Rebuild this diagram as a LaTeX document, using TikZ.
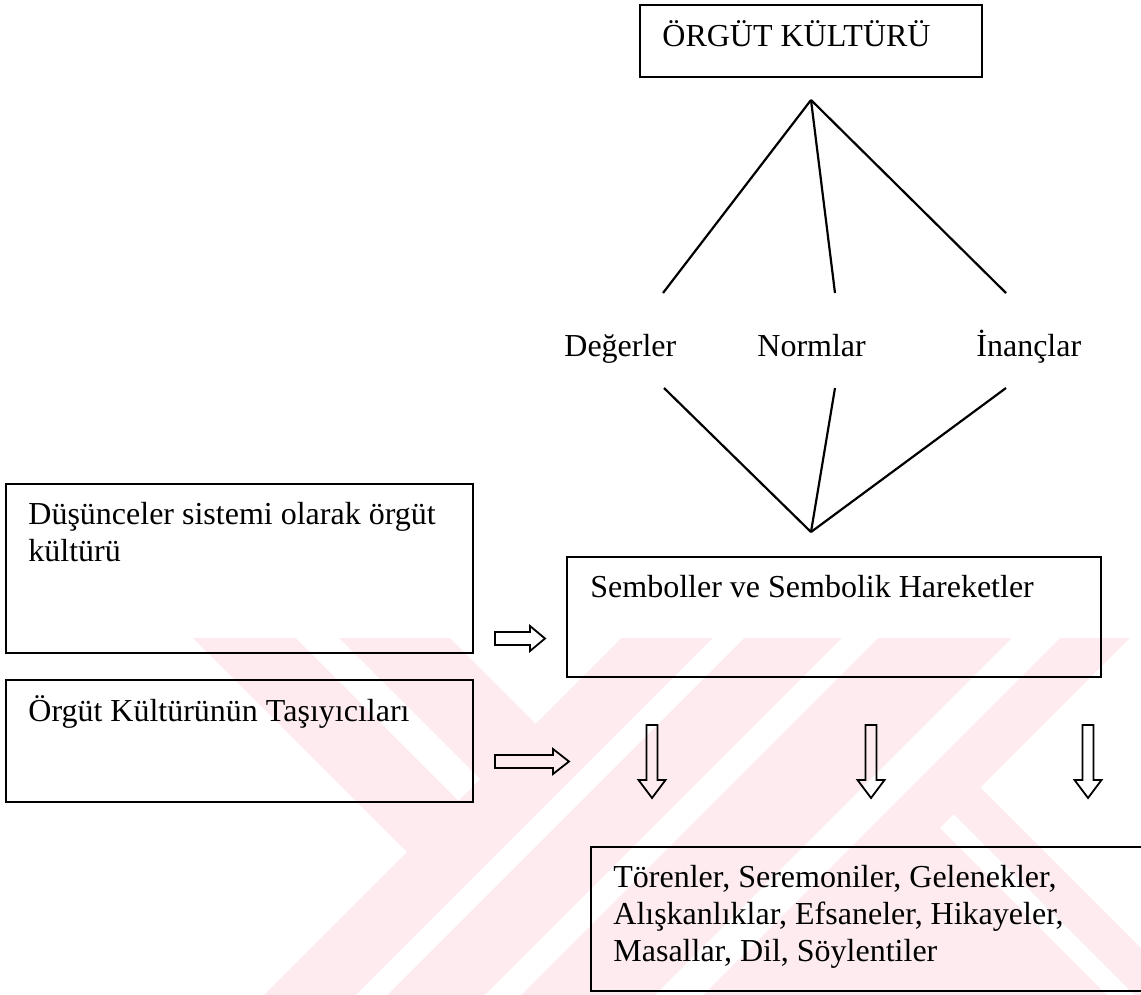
\documentclass[tikz,border=0pt]{standalone}
\usepackage{fontspec}
\setmainfont{Liberation Serif}
\definecolor{wm}{RGB}{253,235,239}
\tikzset{
  box/.style={draw, line width=1pt, inner sep=0pt},
  txt/.style={anchor=base west, inner sep=0pt, font=\fontsize{16pt}{18.5pt}\selectfont},
  conn/.style={line width=1.1pt},
  barrow/.style={draw, line width=0.9pt, line join=miter},
}
\begin{document}
\begin{tikzpicture}[x=0.5pt,y=-0.5pt]
\useasboundingbox (0,0) rectangle (1141,995);
\clip (0,0) rectangle (1141,995);

% faint watermark
\fill[wm] (193,638) -- (1141,638) -- (1141,995) -- (264,995) -- (407,852) -- cycle;
\fill[white] (296,638) -- (339,638) -- (480,779) -- (458.5,800.5) -- cycle;
\fill[white] (450,638) -- (621,638) -- (535.5,723.5) -- cycle;
\fill[white] (713,638) -- (744,638) -- (387,995) -- (356,995) -- cycle;
\fill[white] (842,638) -- (878,638) -- (521,995) -- (485,995) -- cycle;
\fill[white] (1012,638) -- (1060,638) -- (703,995) -- (655,995) -- cycle;
\fill[white] (1130,638) -- (1141,638) -- (1141,948) -- (980.5,787.5) -- cycle;
\fill[white] (953.5,814.5) -- (940,828) -- (1107,995) -- (1134,995) -- cycle;

% boxes
\node[box, minimum width=171pt, minimum height=36pt] (kultur) at (811,41) {};
\node[txt] (kulturT) at (662,47) {ÖRGÜT KÜLTÜRÜ};

\node[box, minimum width=233.5pt, minimum height=84.5pt] (dus) at (239.5,568.5) {};
\node[txt] (dusT1) at (28,524) {Düşünceler sistemi olarak örgüt};
\node[txt] (dusT2) at (28,561) {kültürü};

\node[box, minimum width=233.5pt, minimum height=61pt] (tas) at (239.5,741) {};
\node[txt] (tasT) at (28,721) {Örgüt Kültürünün Taşıyıcıları};

\node[box, minimum width=267pt, minimum height=60pt] (sem) at (834,617) {};
\node[txt] (semT) at (590,597) {Semboller ve Sembolik Hareketler};

\node[box, minimum width=284.5pt, minimum height=72pt] (tor) at (875.5,919) {};
\node[txt] (torT1) at (613,887) {Törenler, Seremoniler, Gelenekler,};
\node[txt] (torT2) at (613,924) {Alışkanlıklar, Efsaneler, Hikayeler,};
\node[txt] (torT3) at (613,961) {Masallar, Dil, Söylentiler};

% labels
\node[txt] (deg) at (564,356) {Değerler};
\node[txt] (nor) at (757,356) {Normlar};
\node[txt] (ina) at (976,356) {İnançlar};

% connector points
\coordinate (apex) at (811,100);
\coordinate (dTop) at (663,293);
\coordinate (nTop) at (835,293);
\coordinate (iTop) at (1006,293);
\coordinate (dBot) at (664,388);
\coordinate (nBot) at (835,388);
\coordinate (iBot) at (1006,388);
\coordinate (conv) at (811,532);

\draw[conn] (apex) -- (dTop);
\draw[conn] (apex) -- (nTop);
\draw[conn] (apex) -- (iTop);
\draw[conn] (dBot) -- (conv);
\draw[conn] (nBot) -- (conv);
\draw[conn] (iBot) -- (conv);

% hollow block arrows (right)
\draw[barrow] (495,632) -- (530,632) -- (530,626) -- (545,638.5) -- (530,651) -- (530,645) -- (495,645) -- cycle;
\draw[barrow] (495,755) -- (553,755) -- (553,749) -- (569,761.5) -- (553,774) -- (553,768) -- (495,768) -- cycle;

% hollow block arrows (down)
\foreach \cx in {652,871,1088}{
  \draw[barrow] (\cx-5.5,725) -- (\cx+5.5,725) -- (\cx+5.5,780) -- (\cx+13.5,780) -- (\cx,798) -- (\cx-13.5,780) -- (\cx-5.5,780) -- cycle;
}
\end{tikzpicture}
\end{document}
